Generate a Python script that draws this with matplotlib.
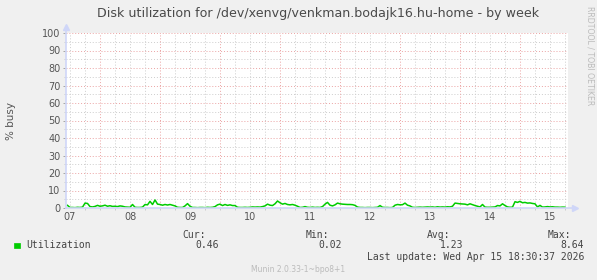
import matplotlib
matplotlib.use("Agg")
import matplotlib.pyplot as plt
import numpy as np
from matplotlib.patches import Rectangle

# hourly % busy, first sample Apr 7 11:00, last Apr 15 18:00
busy = [
    1.5, 0.3, 0.3, 0.2, 0.4, 0.3, 0.5, 2.8, 2.6, 0.8,
    0.6, 0.9, 1.5, 1.0, 1.2, 1.6, 1.0, 1.3, 0.9, 1.0,
    0.8, 1.2, 1.0, 0.6, 0.5, 0.4, 2.0, 0.4, 0.3, 0.3,
    0.5, 2.0, 1.8, 3.8, 2.0, 4.6, 2.2, 2.0, 1.6, 2.0,
    1.7, 2.0, 1.6, 1.2, 0.4, 0.3, 0.3, 1.2, 2.5, 1.0,
    0.3, 0.3, 0.2, 0.3, 0.3, 0.2, 0.4, 0.3, 0.4, 0.8,
    1.8, 2.2, 1.4, 2.0, 1.5, 1.8, 1.4, 1.4, 0.4, 0.3,
    0.3, 0.4, 0.3, 0.4, 0.6, 0.5, 0.6, 0.5, 0.8, 1.2,
    2.2, 1.6, 1.4, 2.4, 4.0, 3.0, 2.2, 2.6, 2.0, 1.8,
    2.0, 1.6, 1.0, 0.3, 0.4, 0.8, 0.4, 0.3, 0.5, 0.3,
    0.4, 0.3, 0.8, 2.2, 3.2, 1.6, 1.2, 1.8, 2.8, 2.4,
    2.2, 2.1, 2.0, 2.0, 1.9, 1.5, 0.5, 0.3, 0.3, 0.2,
    0.3, 0.3, 0.2, 0.3, 0.4, 1.4, 0.4, 0.3, 0.3, 0.2,
    0.3, 1.6, 2.0, 1.8, 1.9, 2.8, 1.6, 1.2, 0.4, 0.3,
    0.4, 0.5, 0.4, 0.5, 0.6, 0.5, 0.6, 0.4, 0.7, 0.5,
    0.6, 0.5, 0.7, 0.6, 1.0, 2.8, 2.6, 2.4, 2.3, 2.2,
    1.8, 2.4, 1.9, 1.4, 1.0, 0.6, 2.0, 0.5, 0.4, 0.4,
    0.5, 0.6, 1.4, 1.2, 2.4, 1.4, 0.6, 0.4, 0.5, 3.6,
    3.2, 3.8, 3.0, 3.2, 2.8, 2.9, 2.6, 2.4, 0.6, 1.5,
    0.5, 0.6, 0.8, 0.6, 0.7, 0.5, 0.5, 0.4, 0.5, 0.46,
]
start_hour = 11  # hours after Apr 7 00:00
day_labels = ["07", "08", "09", "10", "11", "12", "13", "14", "15"]
col_heads = ["Cur:", "Min:", "Avg:", "Max:"]
col_vals = ["0.46", "0.02", "1.23", "8.64"]
last_update = "Last update: Wed Apr 15 18:30:37 2026"

# x in days since Apr 7 00:00
t = (start_hour + np.arange(len(busy))) / 24.0

W, H = 597, 280
fig = plt.figure(figsize=(W / 100, H / 100), dpi=100, facecolor="#F0F0F0")

def fx(px):
    return px / W

def fy(py):
    return 1 - py / H

ax = fig.add_axes([fx(66), fy(208), 502 / W, 175 / H])
ax.set_facecolor("white")
ax.set_xlim(0.433, 8.8)
ax.set_ylim(0, 100)

grey = "#cdcdcd"
red = "#eba3a3"
dots = (0, (1, 2))

# horizontal grid
for v in range(5, 101, 10):
    ax.axhline(v, color=grey, lw=0.7, ls=dots, zorder=1)
for v in range(10, 101, 10):
    ax.axhline(v, color=red, lw=0.7, ls=dots, zorder=1)
# vertical grid: 6h minor, midnight major
for h in range(0, 9 * 24, 6):
    d = h / 24.0
    if d < 0.433 or d > 8.8:
        continue
    if h % 24 == 0:
        ax.axvline(d, color=red, lw=0.7, ls=dots, zorder=1)
    else:
        ax.axvline(d, color=grey, lw=0.7, ls=dots, zorder=1)

ax.plot(t, busy, color="#00CC00", lw=1.1, zorder=3)

for s in ax.spines.values():
    s.set_visible(False)

ax.set_yticks(range(0, 101, 10))
ax.set_yticks(range(5, 100, 10), minor=True)
ax.set_xticks(np.arange(len(day_labels)) + 0.5)
ax.set_xticklabels(day_labels)
ax.set_xticks([h / 24.0 for h in range(18, 9 * 24, 6) if 0.433 < h / 24.0 < 8.8], minor=True)
ax.tick_params(axis="both", which="major", labelsize=7, labelcolor="#555555",
               color="#999999", length=2, width=0.6, pad=2)
ax.tick_params(axis="both", which="minor", color="#bbbbbb", length=1.5, width=0.5)
ax.tick_params(axis="x", which="major", length=0, pad=3)

# axis lines with arrows
axis_col = "#CFD6F8"
ax.plot([0, 0], [0, 1.035], transform=ax.transAxes, color=axis_col, lw=1.2,
        clip_on=False, zorder=4)
ax.plot([0, 1.014], [0, 0], transform=ax.transAxes, color=axis_col, lw=1.2,
        clip_on=False, zorder=4)
ax.plot([0], [1.035], transform=ax.transAxes, marker="^", ms=4, color=axis_col,
        clip_on=False, zorder=4)
ax.plot([1.014], [0], transform=ax.transAxes, marker=">", ms=4, color=axis_col,
        clip_on=False, zorder=4)

ax.set_ylabel("% busy", fontsize=7.5, color="#555555", labelpad=19)

fig.text(fx(318), fy(14), "Disk utilization for /dev/xenvg/venkman.bodajk16.hu-home - by week",
         ha="center", va="center", fontsize=9.1, color="#4a4a4a")
fig.text(fx(590), fy(56), "RRDTOOL / TOBI OETIKER", rotation=270, ha="center",
         va="center", fontsize=5.6, color="#bbbbbb")

# legend
mono = "DejaVu Sans Mono"
fig.patches.append(Rectangle((fx(14), fy(248)), 5.5 / W, 5.5 / H, transform=fig.transFigure,
                             facecolor="#00CC00", edgecolor="#00CC00", lw=0.5))
fig.text(fx(26), fy(245.5), "Utilization", family=mono, fontsize=7, color="#444444",
         va="center", ha="left")
head_x = [206, 329, 450, 571]
val_x = [219, 342, 463, 584]
for hx, vx, hd, vl in zip(head_x, val_x, col_heads, col_vals):
    fig.text(fx(hx), fy(235), hd, family=mono, fontsize=7, color="#444444",
             va="center", ha="right")
    fig.text(fx(vx), fy(245.5), vl, family=mono, fontsize=7, color="#444444",
             va="center", ha="right")
fig.text(fx(584), fy(257), last_update, family=mono, fontsize=7, color="#444444",
         va="center", ha="right")
fig.text(fx(298), fy(269), "Munin 2.0.33-1~bpo8+1", fontsize=5.5, color="#bbbbbb",
         va="center", ha="center")

fig.savefig("out.png", dpi=100, facecolor=fig.get_facecolor())
